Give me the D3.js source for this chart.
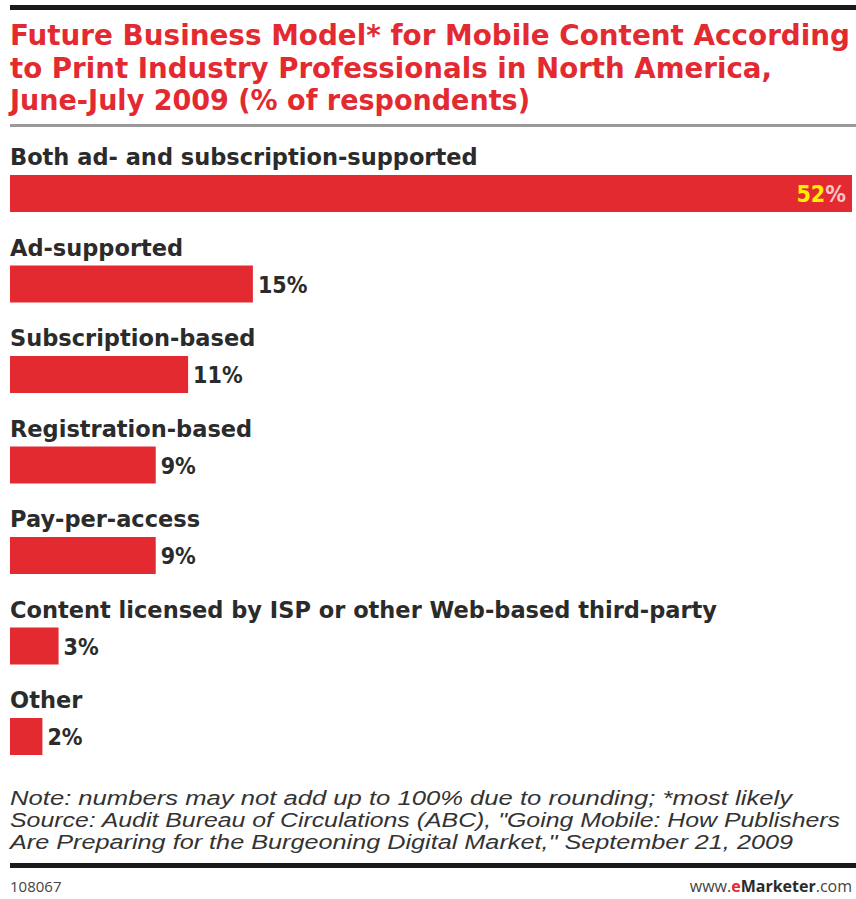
<!DOCTYPE html>
<html>
<head>
<meta charset="utf-8">
<script src="https://cdn.jsdelivr.net/npm/d3@7"></script>
<style>
	body { margin: 0; background: #fff; }
	svg { display: block; }
</style>
</head>
<body>
<svg class="chart" width="856" height="899"></svg>
<script>
// Data
const categories = [
	"Both ad- and subscription-supported",
	"Ad-supported",
	"Subscription-based",
	"Registration-based",
	"Pay-per-access",
	"Content licensed by ISP or other Web-based third-party",
	"Other"
];
const values = [52, 15, 11, 9, 9, 3, 2];

const titleLines = [
	"Future Business Model* for Mobile Content According",
	"to Print Industry Professionals in North America,",
	"June-July 2009 (% of respondents)"
];
const noteLines = [
	"Note: numbers may not add up to 100% due to rounding; *most likely",
	"Source: Audit Bureau of Circulations (ABC), \"Going Mobile: How Publishers",
	"Are Preparing for the Burgeoning Digital Market,\" September 21, 2009"
];

////////////////////////////////////////////////////////////
//// Setup /////////////////////////////////////////////////
////////////////////////////////////////////////////////////
const svg = d3.select(".chart");
const red = "#e42a31";
const dark = "#2b2b2b";
const left = 10;

const condensed = "'DejaVu Sans Condensed', 'Liberation Sans Narrow', 'DejaVu Sans', sans-serif";

// rules
const rules = svg.append("g");
rules.append("rect").attr("x", 10).attr("y", 5).attr("width", 846).attr("height", 5)
	.attr("fill", "#1a1a1a");
rules.append("rect").attr("x", 10).attr("y", 124).attr("width", 846).attr("height", 3)
	.attr("fill", "#9a9a9a");
rules.append("rect").attr("x", 10).attr("y", 863).attr("width", 846).attr("height", 5)
	.attr("fill", "#1a1a1a");

// title
const titleWidths = [840, 762, 520];
svg.append("g")
	.selectAll("text")
	.data(titleLines)
	.join("text")
	.attr("x", left)
	.attr("y", (d, i) => 45 + i * 32.5)
	.attr("fill", red)
	.attr("font-family", condensed)
	.attr("font-weight", "bold")
	.attr("font-size", 28)
	.attr("textLength", (d, i) => titleWidths[i])
	.attr("lengthAdjust", "spacingAndGlyphs")
	.text(d => d);

////////////////////////////////////////////////////////////
//// Bars //////////////////////////////////////////////////
////////////////////////////////////////////////////////////
const x = d3.scaleLinear().domain([0, 52]).range([left, 852]);
const y = d3.scaleBand().domain(categories).range([130, 763.5]).padding(0);

const rows = svg.append("g")
	.selectAll("g")
	.data(categories.map((c, i) => ({ name: c, value: values[i] })))
	.join("g")
	.attr("transform", d => `translate(0,${y(d.name)})`);

rows.append("text")
	.attr("x", left)
	.attr("y", 35)
	.attr("fill", dark)
	.attr("font-family", "'DejaVu Sans', sans-serif")
	.attr("font-weight", "bold")
	.attr("font-size", 22.5)
	.text(d => d.name);

rows.append("rect")
	.attr("x", x(0))
	.attr("y", 45)
	.attr("width", d => x(d.value) - x(0))
	.attr("height", 37)
	.attr("fill", red);

// value labels
rows.each(function (d, i) {
	const g = d3.select(this);
	const inside = i === 0;
	const t = g.append("text")
		.attr("y", 72)
		.attr("font-family", condensed)
		.attr("font-weight", "bold")
		.attr("font-size", 23);
	if (inside) {
		t.attr("x", x(d.value) - 6).attr("text-anchor", "end");
		t.append("tspan").attr("fill", "#ffee00").text(d.value);
		t.append("tspan").attr("fill", "#f7c6c6").text("%");
	} else {
		t.attr("x", x(d.value) + 5).attr("fill", dark).text(d.value + "%");
	}
});

////////////////////////////////////////////////////////////
//// Notes /////////////////////////////////////////////////
////////////////////////////////////////////////////////////
const noteWidths = [782, 830, 783];
svg.append("g")
	.selectAll("text")
	.data(noteLines)
	.join("text")
	.attr("x", left)
	.attr("y", (d, i) => 805 + i * 22)
	.attr("fill", "#333")
	.attr("font-family", "'Liberation Sans', sans-serif")
	.attr("font-style", "italic")
	.attr("font-size", 20)
	.attr("textLength", (d, i) => noteWidths[i])
	.attr("lengthAdjust", "spacingAndGlyphs")
	.text(d => d);

svg.append("text")
	.attr("x", left)
	.attr("y", 892)
	.attr("fill", "#444")
	.attr("font-family", "'Open Sans', sans-serif")
	.attr("font-size", 15)
	.text("108067");

const brand = svg.append("text")
	.attr("x", 852)
	.attr("y", 892)
	.attr("text-anchor", "end")
	.attr("fill", "#444")
	.attr("font-family", "'Open Sans', sans-serif")
	.attr("font-size", 16);
brand.append("tspan").text("www.");
brand.append("tspan").attr("fill", red).attr("font-weight", "bold").text("e");
brand.append("tspan").attr("fill", dark).attr("font-weight", "bold").text("Marketer");
brand.append("tspan").text(".com");
</script>
</body>
</html>
